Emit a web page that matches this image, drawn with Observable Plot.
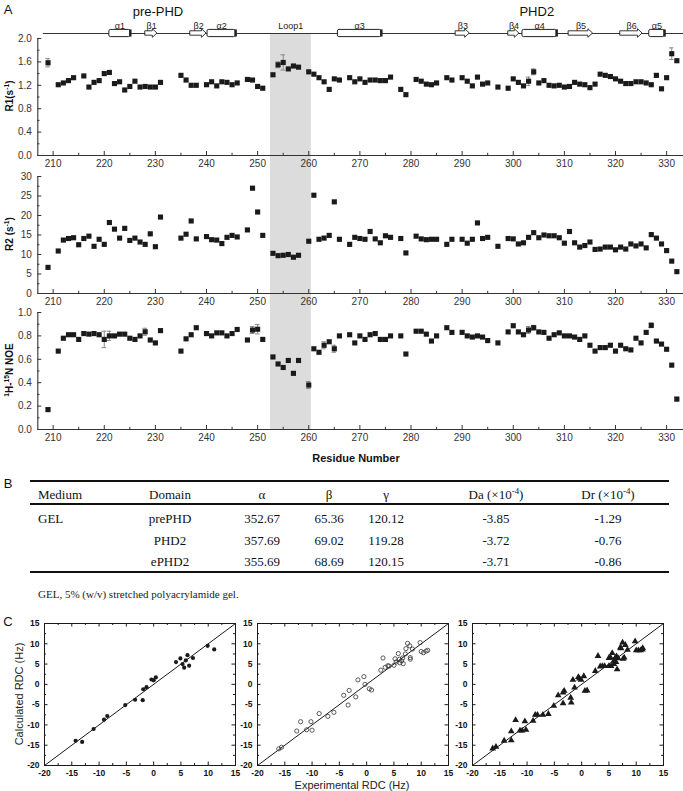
<!DOCTYPE html>
<html><head><meta charset="utf-8">
<script src="https://cdn.jsdelivr.net/npm/d3@7"></script>
<script src="https://cdn.jsdelivr.net/npm/@observablehq/plot@0.6"></script>
<style>
body{margin:0;background:#fff;}
#fig{position:relative;width:683px;height:791px;overflow:hidden;background:#fff;}
#fig svg{position:absolute;}
.lbl{position:absolute;white-space:nowrap;line-height:1;}
.lbl sup{font-size:0.68em;vertical-align:0.55em;line-height:0;}
.hl{position:absolute;background:#111;}
</style></head><body><div id="fig"></div>
<script>
// ---------------- DATA ----------------
// R1 (s^-1) per residue
const r1Data = [[209,1.585],[211,1.21],[212,1.24],[213,1.28],[214,1.33],[216,1.36],[217,1.17],[218,1.25],[219,1.28],[220,1.40],[221,1.42],[222,1.23],[223,1.26],[224,1.12],[225,1.18],[226,1.27],[227,1.17],[228,1.18],[229,1.17],[230,1.17],[231,1.25],[235,1.37],[236,1.29],[237,1.20],[238,1.20],[240,1.21],[241,1.26],[242,1.19],[243,1.26],[244,1.25],[245,1.21],[246,1.24],[248,1.30],[249,1.29],[250,1.18],[251,1.15],[253,1.38],[254,1.55],[255,1.59],[256,1.48],[257,1.53],[258,1.51],[260,1.43],[261,1.39],[262,1.33],[263,1.26],[264,1.13],[265,1.31],[266,1.29],[268,1.33],[269,1.26],[270,1.31],[271,1.25],[272,1.29],[273,1.29],[274,1.28],[275,1.28],[276,1.34],[278,1.13],[279,1.04],[281,1.30],[282,1.27],[283,1.22],[284,1.21],[285,1.24],[287,1.33],[288,1.29],[290,1.33],[291,1.27],[292,1.19],[293,1.34],[294,1.22],[295,1.24],[297,1.17],[299,1.15],[300,1.31],[301,1.25],[302,1.19],[303,1.27],[304,1.43],[305,1.24],[306,1.28],[307,1.20],[308,1.19],[309,1.20],[310,1.17],[311,1.18],[312,1.25],[313,1.22],[314,1.21],[315,1.16],[316,1.22],[317,1.39],[318,1.37],[319,1.35],[320,1.31],[321,1.27],[322,1.23],[323,1.23],[324,1.26],[325,1.26],[326,1.24],[327,1.21],[328,1.37],[329,1.14],[330,1.33],[331,1.74],[332,1.62]];
const r1Err = [[209,0.07],[254,0.05],[255,0.13],[303,0.07],[304,0.05],[328,0.03],[331,0.10]];

// R2 (s^-1) per residue
const r2Data = [[209,6.7],[211,10.9],[212,13.7],[213,14.1],[214,14.3],[215,12.5],[216,14.1],[217,14.7],[218,12.1],[219,13.9],[220,12.6],[221,18.2],[222,16.5],[223,14.2],[224,16.7],[225,13.6],[226,14.2],[227,13.2],[228,12.6],[229,15.3],[230,12.0],[231,19.6],[235,14.2],[236,15.2],[237,18.6],[238,14.0],[240,14.6],[241,13.8],[242,13.7],[243,12.8],[244,14.4],[245,14.9],[246,14.5],[248,16.3],[249,27.0],[250,20.9],[251,14.9],[253,10.3],[254,9.7],[255,9.8],[256,10.0],[257,9.3],[258,9.8],[260,13.4],[261,25.2],[262,13.9],[263,14.2],[264,14.9],[265,23.5],[266,13.9],[268,12.6],[269,14.4],[270,14.1],[271,13.9],[272,15.9],[273,14.0],[274,13.0],[275,14.8],[276,14.4],[278,14.1],[279,10.4],[281,14.7],[282,14.0],[283,13.8],[284,13.9],[285,13.9],[287,12.6],[288,13.9],[290,13.9],[291,12.9],[292,13.9],[293,18.1],[294,14.1],[295,14.4],[297,12.1],[299,14.1],[300,14.0],[301,12.7],[302,13.0],[303,14.4],[304,15.6],[305,14.3],[306,15.0],[307,14.8],[308,14.8],[309,14.3],[310,12.9],[311,15.9],[312,13.0],[313,11.9],[314,12.3],[315,13.2],[316,11.3],[317,11.4],[318,11.9],[319,11.9],[320,11.2],[321,11.9],[322,11.4],[323,12.7],[324,12.2],[325,12.7],[326,11.7],[327,15.1],[328,14.2],[329,12.7],[330,11.0],[331,8.3],[332,5.6]];
const r2Err = [];

// 1H-15N NOE per residue
const noeData = [[209,0.17],[211,0.67],[212,0.78],[213,0.81],[214,0.81],[215,0.77],[216,0.82],[217,0.815],[218,0.82],[219,0.81],[220,0.77],[221,0.80],[222,0.80],[223,0.815],[224,0.815],[225,0.78],[226,0.77],[227,0.80],[228,0.835],[229,0.765],[230,0.74],[231,0.845],[235,0.67],[236,0.775],[237,0.81],[238,0.87],[240,0.82],[241,0.80],[242,0.826],[243,0.826],[244,0.80],[245,0.82],[246,0.855],[248,0.765],[249,0.85],[250,0.857],[251,0.77],[253,0.62],[254,0.56],[255,0.53],[256,0.59],[257,0.48],[258,0.59],[260,0.38],[261,0.69],[262,0.66],[263,0.72],[264,0.75],[265,0.69],[266,0.80],[268,0.81],[269,0.74],[270,0.80],[271,0.77],[272,0.81],[273,0.82],[274,0.77],[275,0.77],[276,0.80],[278,0.80],[279,0.645],[281,0.84],[282,0.84],[283,0.815],[284,0.756],[285,0.80],[287,0.87],[288,0.83],[290,0.83],[291,0.80],[292,0.79],[293,0.80],[294,0.79],[295,0.76],[297,0.74],[299,0.834],[300,0.887],[301,0.834],[302,0.81],[303,0.85],[304,0.87],[305,0.834],[306,0.83],[307,0.78],[308,0.81],[309,0.826],[310,0.80],[311,0.80],[312,0.79],[313,0.77],[314,0.80],[315,0.72],[316,0.67],[317,0.70],[318,0.70],[319,0.72],[320,0.67],[321,0.72],[322,0.69],[323,0.68],[324,0.78],[325,0.74],[326,0.83],[327,0.89],[328,0.756],[329,0.73],[330,0.686],[331,0.55],[332,0.26]];
const noeErr = [[209,0.012],[220,0.07],[221,0.04],[228,0.03],[249,0.03],[250,0.04],[260,0.03],[263,0.03],[265,0.03],[303,0.03],[304,0.02],[327,0.02],[332,0.015]];

// Secondary structure (residue numbers)
const helices = [{name:"α1",start:221.0,end:225.1},{name:"α2",start:240.2,end:245.7},{name:"α3",start:265.7,end:274.2},{name:"α4",start:301.8,end:308.5},{name:"α5",start:326.6,end:329.6}];
const strands = [{name:"β1",start:228.1,end:230.4},{name:"β2",start:236.9,end:240.0},{name:"β3",start:288.8,end:291.5},{name:"β4",start:299.1,end:301.2},{name:"β5",start:310.9,end:315.6},{name:"β6",start:321.0,end:325.3}];
const loopRegion = {name:"Loop1",start:252.5,end:260.5};
const domainLabels = [{name:"pre-PHD",at:230.5},{name:"PHD2",at:304.6}];
const ssSpan = [208.1, 333.3];

// axis ticks
const xMajor = [210,220,230,240,250,260,270,280,290,300,310,320,330];
const xMinor = [215,225,235,245,255,265,275,285,295,305,315,325];
const r1Ticks = [0,0.4,0.8,1.2,1.6,2.0], r1Minor = [0.2,0.6,1.0,1.4,1.8];
const r2Ticks = [0,5,10,15,20,25,30], r2Minor = [2.5,7.5,12.5,17.5,22.5,27.5];
const noeTicks = [0,0.2,0.4,0.6,0.8,1.0], noeMinor = [0.1,0.3,0.5,0.7,0.9];

// Table B
const tableHeader = ["Medium","Domain","α","β","γ","Da (×10<sup>-4</sup>)","Dr (×10<sup>-4</sup>)"];
const tableRows = [
  ["GEL","prePHD","352.67","65.36","120.12","-3.85","-1.29"],
  ["","PHD2","357.69","69.02","119.28","-3.72","-0.76"],
  ["","ePHD2","355.69","68.69","120.15","-3.71","-0.86"]
];
const tableNote = "GEL, 5% (w/v) stretched polyacrylamide gel.";

// Panel C: experimental vs calculated RDC (Hz)
const rdcPrePHD = [[-14.3,-13.9],[-13.1,-14.2],[-11.0,-11.0],[-9.1,-8.7],[-8.5,-7.8],[-5.2,-5.1],[-3.4,-3.8],[-2.0,-3.9],[-1.9,-1.2],[-1.3,-0.7],[-0.4,1.2],[0.0,1.0],[0.4,1.7],[4.1,5.5],[4.9,6.4],[5.3,5.0],[5.6,4.1],[5.9,5.9],[6.2,7.2],[6.5,4.6],[7.2,6.5],[9.9,9.5],[11.1,8.6]];
const rdcPHD2 = [[-16.1,-15.9],[-15.6,-15.5],[-12.8,-11.5],[-12.1,-9.2],[-11.0,-11.2],[-10.2,-9.2],[-10.0,-11.3],[-8.7,-7.2],[-7.1,-7.9],[-6.0,-6.9],[-4.2,-2.7],[-3.4,-5.1],[-3.2,-1.5],[-2.0,-3.1],[-1.6,1.1],[-0.5,1.9],[-0.3,0.0],[0.5,-1.1],[0.9,-1.4],[2.6,3.5],[3.0,6.5],[3.4,4.2],[3.9,4.6],[4.1,4.5],[5.0,4.7],[5.2,6.3],[5.4,5.5],[5.8,7.6],[6.0,6.2],[6.1,5.3],[6.4,5.8],[6.6,6.5],[6.7,5.1],[7.1,7.5],[7.2,8.8],[7.5,10.1],[7.9,9.5],[8.0,6.6],[8.0,6.2],[8.4,8.7],[9.8,10.3],[10.0,8.1],[10.4,7.8],[10.9,8.2],[11.2,8.4]];
const rdcEPHD2 = [[-16.3,-15.8],[-15.7,-15.4],[-14.2,-13.9],[-12.9,-11.6],[-12.9,-13.8],[-12.1,-8.8],[-11.3,-11.4],[-10.9,-11.4],[-10.4,-9.1],[-10.2,-11.2],[-8.9,-9.0],[-8.5,-7.5],[-8.1,-7.5],[-7.1,-7.5],[-6.1,-7.3],[-5.1,-5.3],[-4.3,-2.7],[-3.4,-4.7],[-3.2,-1.6],[-3.4,-2.0],[-2.0,-3.3],[-1.9,-4.5],[-1.6,1.1],[-1.3,-0.8],[-0.6,1.8],[-0.4,1.4],[-0.1,1.1],[0.4,2.0],[0.6,-1.6],[1.0,-1.5],[3.0,7.0],[2.5,3.3],[3.4,4.4],[3.8,4.5],[4.2,4.5],[5.0,6.5],[5.3,6.6],[5.0,4.5],[5.4,4.5],[5.9,5.0],[5.6,7.7],[5.9,5.8],[6.2,6.6],[6.3,5.5],[6.4,6.9],[6.7,6.4],[6.5,3.7],[7.1,9.1],[7.2,8.9],[7.5,10.3],[7.6,6.3],[7.8,6.6],[8.0,9.7],[8.4,8.5],[9.8,10.6],[10.0,8.4],[10.4,8.4],[10.8,8.4],[11.1,8.6],[11.2,8.9]];
const rdcDomain = [-20, 15];
const rdcTicks = [-20,-15,-10,-5,0,5,10,15];
const rdcMinor = [-17.5,-12.5,-7.5,-2.5,2.5,7.5,12.5];

// ---------------- LAYOUT ----------------
const SANS = "'Liberation Sans', Arial, Helvetica, sans-serif";
const SERIF = "'Liberation Serif', 'Times New Roman', serif";
const FIG_W = 683, FRAME_L = 37.3;
const X_DOMAIN = [207, 333.3];
const SS_Y = 33;
const PANELS = [{top:38,bottom:155},{top:176,bottom:293},{top:312,bottom:429}];
const INK = "#1a1a1a", AXIS = "#333";
const fig = document.getElementById("fig");
const baseStyle = {background:"transparent", fontFamily:SANS, fontSize:"10px", color:"#333", overflow:"visible"};

function addText(html, x, y, o = {}) {
  const d = document.createElement("div");
  d.className = "lbl"; d.innerHTML = html;
  d.style.left = x + "px"; d.style.top = y + "px";
  d.style.fontSize = (o.size || 13) + "px";
  d.style.fontWeight = o.weight || "normal";
  d.style.fontFamily = o.family || SANS;
  d.style.color = o.color || "#111";
  const tx = o.anchor === "start" ? "0" : o.anchor === "end" ? "-100%" : "-50%";
  d.style.transform = `translate(${tx},-50%)` + (o.rotate ? ` rotate(${o.rotate}deg)` : "");
  fig.appendChild(d);
}
function addLine(x1, x2, y, t) {
  const d = document.createElement("div");
  d.className = "hl";
  d.style.left = x1 + "px"; d.style.width = (x2 - x1) + "px";
  d.style.top = (y - t / 2) + "px"; d.style.height = t + "px";
  fig.appendChild(d);
}
function place(svg, left, top) {
  svg.style.left = left + "px"; svg.style.top = top + "px";
  fig.appendChild(svg);
}

// ---------- Background: loop shading + secondary structure ----------
const arrowHead = 0.9, bodyH = 2.2, headH = 4.3;
const arrowPts = strands.flatMap((s, i) => {
  const xh = s.end - arrowHead;
  return [
    {id:i, x:s.start, y1:SS_Y - bodyH, y2:SS_Y + bodyH},
    {id:i, x:xh, y1:SS_Y - bodyH, y2:SS_Y + bodyH},
    {id:i, x:xh, y1:SS_Y - headH, y2:SS_Y + headH},
    {id:i, x:s.end, y1:SS_Y, y2:SS_Y}
  ];
});
const BG_H = PANELS[2].bottom + 2;
const bg = Plot.plot({
  width: FIG_W, height: BG_H, marginLeft: FRAME_L, marginRight: 0, marginTop: 0, marginBottom: 0,
  x: {domain: X_DOMAIN, axis: null},
  y: {domain: [BG_H, 0], axis: null},
  style: baseStyle,
  marks: [
    Plot.rect([loopRegion], {x1: "start", x2: "end", y1: SS_Y + 1, y2: PANELS[2].bottom, fill: "#dcdcdc"}),
    Plot.ruleY([SS_Y], {x1: ssSpan[0], x2: ssSpan[1], stroke: "#333", strokeWidth: 1.1}),
    Plot.areaY(arrowPts, {x: "x", y1: "y1", y2: "y2", z: "id", fill: "white", stroke: "#222", strokeWidth: 0.9, curve: "linear"}),
    Plot.rect(helices, {x1: "start", x2: "end", y1: SS_Y - 3.6, y2: SS_Y + 3.6, fill: "white", stroke: "#222", strokeWidth: 1, rx: 1.5}),
    Plot.ruleX(helices, {x: "end", y1: SS_Y - 3.6, y2: SS_Y + 3.6, stroke: "#222", strokeWidth: 2.4}),
    Plot.text([...helices, ...strands, loopRegion], {x: d => (d.start + d.end) / 2, y: SS_Y - 5, text: "name", fontSize: 9, lineAnchor: "bottom", fill: "#222"}),
    Plot.text(domainLabels, {x: "at", y: 11.5, text: "name", fontSize: 13, fill: "#111"})
  ]
});
place(bg, 0, 0);

// ---------- Relaxation panels ----------
function relaxPlot({data, err, yDomain, yTicks, yMinor, fmt, panel}) {
  const mt = 6, mb = 24;
  const H = panel.bottom - panel.top;
  const pxY = H / (yDomain[1] - yDomain[0]);
  const pxX = (FIG_W - FRAME_L) / (X_DOMAIN[1] - X_DOMAIN[0]);
  const y0 = yDomain[0], x0 = X_DOMAIN[0];
  const vals = new Map(data);
  const errRows = err.map(([r, e]) => ({x: r, lo: vals.get(r) - e, hi: vals.get(r) + e}));
  const svg = Plot.plot({
    width: FIG_W, height: mt + H + mb, marginLeft: FRAME_L, marginRight: 0, marginTop: mt, marginBottom: mb,
    x: {domain: X_DOMAIN, ticks: xMajor, tickSize: 0, tickPadding: 4, tickFormat: d => String(d), label: null},
    y: {domain: yDomain, ticks: yTicks, tickSize: 0, tickPadding: 6, tickFormat: fmt, label: null},
    style: baseStyle,
    marks: [
      Plot.ruleY([y0], {stroke: AXIS, strokeWidth: 1.1}),
      Plot.ruleX([x0], {stroke: AXIS, strokeWidth: 1.1}),
      Plot.ruleX(xMajor, {y1: y0, y2: y0 + 4 / pxY, stroke: AXIS}),
      Plot.ruleX(xMinor, {y1: y0, y2: y0 + 2.2 / pxY, stroke: AXIS}),
      Plot.ruleY(yTicks, {x1: x0, x2: x0 + 4 / pxX, stroke: AXIS}),
      Plot.ruleY(yMinor, {x1: x0, x2: x0 + 2.2 / pxX, stroke: AXIS}),
      Plot.ruleX(errRows, {x: "x", y1: "lo", y2: "hi", stroke: "#888"}),
      Plot.ruleY(errRows, {y: "lo", x1: d => d.x - 0.45, x2: d => d.x + 0.45, stroke: "#888"}),
      Plot.ruleY(errRows, {y: "hi", x1: d => d.x - 0.45, x2: d => d.x + 0.45, stroke: "#888"}),
      Plot.dot(data, {x: d => d[0], y: d => d[1], symbol: "square", r: 2.9, fill: INK})
    ]
  });
  place(svg, 0, panel.top - mt);
}
relaxPlot({data: r1Data, err: r1Err, yDomain: [0, 2.0], yTicks: r1Ticks, yMinor: r1Minor, fmt: d => d.toFixed(1), panel: PANELS[0]});
relaxPlot({data: r2Data, err: r2Err, yDomain: [0, 30], yTicks: r2Ticks, yMinor: r2Minor, fmt: d => String(d), panel: PANELS[1]});
relaxPlot({data: noeData, err: noeErr, yDomain: [0, 1.0], yTicks: noeTicks, yMinor: noeMinor, fmt: d => d.toFixed(1), panel: PANELS[2]});

// titles of panel A
addText("A", 8, 9, {size: 13});
addText("R1(s<sup>-1</sup>)", 10, 96, {size: 10, weight: "bold", rotate: -90});
addText("R2 (s<sup>-1</sup>)", 10, 234, {size: 10, weight: "bold", rotate: -90});
addText("<sup>1</sup>H-<sup>15</sup>N NOE", 10, 370, {size: 10, weight: "bold", rotate: -90});
addText("Residue Number", 356, 458, {size: 11, weight: "bold"});

// ---------- Table B ----------
addText("B", 8, 483, {size: 13});
const colX = [38, 170, 262, 329, 386, 496, 608];
const TBL = {x1: 30, x2: 669, top: 481, head: 494, headLine: 504, rows: [518, 539.5, 561], bottom: 572, note: 594};
addLine(TBL.x1, TBL.x2, TBL.top, 2);
addLine(TBL.x1, TBL.x2, TBL.headLine, 1.5);
addLine(TBL.x1, TBL.x2, TBL.bottom, 2);
tableHeader.forEach((h, i) => addText(h, colX[i], TBL.head, {size: 13, family: SERIF, anchor: i === 0 ? "start" : "middle"}));
tableRows.forEach((row, r) => row.forEach((c, i) => {
  if (c) addText(c, colX[i], TBL.rows[r], {size: 13, family: SERIF, anchor: i === 0 ? "start" : "middle"});
}));
addText(tableNote, 38, TBL.note, {size: 11, family: SERIF, anchor: "start", color: "#222"});

// ---------- Panel C ----------
addText("C", 8, 621, {size: 13});
const RDC_W = 191, RDC_H = 142, RDC_TOP = 623;
function rdcPlot(points, kind, frameLeft) {
  const mL = 24, mR = 6, mT = 6, mB = 14;
  const px = RDC_W / (rdcDomain[1] - rdcDomain[0]);
  const py = RDC_H / (rdcDomain[1] - rdcDomain[0]);
  const [lo, hi] = rdcDomain;
  const diag = [[lo, lo], [hi, hi]];
  const dotOpts = kind === "open"
    ? {x: d => d[0], y: d => d[1], r: 2.1, stroke: "#333", strokeWidth: 0.8, fill: "none"}
    : kind === "triangle"
    ? {x: d => d[0], y: d => d[1], symbol: "triangle", r: 2.5, fill: INK}
    : {x: d => d[0], y: d => d[1], r: 2.1, fill: INK};
  const tickMarks = (vals, len) => [
    Plot.ruleX(vals, {y1: lo, y2: lo + len / py, stroke: INK}),
    Plot.ruleX(vals, {y1: hi - len / py, y2: hi, stroke: INK}),
    Plot.ruleY(vals, {x1: lo, x2: lo + len / px, stroke: INK}),
    Plot.ruleY(vals, {x1: hi - len / px, x2: hi, stroke: INK})
  ];
  const svg = Plot.plot({
    width: mL + RDC_W + mR, height: mT + RDC_H + mB,
    marginLeft: mL, marginRight: mR, marginTop: mT, marginBottom: mB,
    x: {domain: rdcDomain, ticks: rdcTicks, tickSize: 0, tickPadding: 4, tickFormat: d => String(d), label: null},
    y: {domain: rdcDomain, ticks: rdcTicks, tickSize: 0, tickPadding: 5, tickFormat: d => String(d), label: null},
    style: {...baseStyle, fontSize: "8.5px", fontWeight: "bold", color: "#111"},
    marks: [
      ...tickMarks(rdcTicks.slice(1, -1), 3.5),
      ...tickMarks(rdcMinor, 2),
      Plot.line(diag, {x: d => d[0], y: d => d[1], stroke: INK, strokeWidth: 1}),
      Plot.dot(points, dotOpts),
      Plot.frame({stroke: INK, strokeWidth: 1})
    ]
  });
  place(svg, frameLeft - mL, RDC_TOP - mT);
}
rdcPlot(rdcPrePHD, "filled", 43.5);
rdcPlot(rdcPHD2, "open", 256.5);
rdcPlot(rdcEPHD2, "triangle", 471.5);
addText("Calculated RDC (Hz)", 19, 694, {size: 11, rotate: -90, color: "#222"});
addText("Experimental RDC (Hz)", 352, 784.5, {size: 11, color: "#222"});
</script></body></html>
